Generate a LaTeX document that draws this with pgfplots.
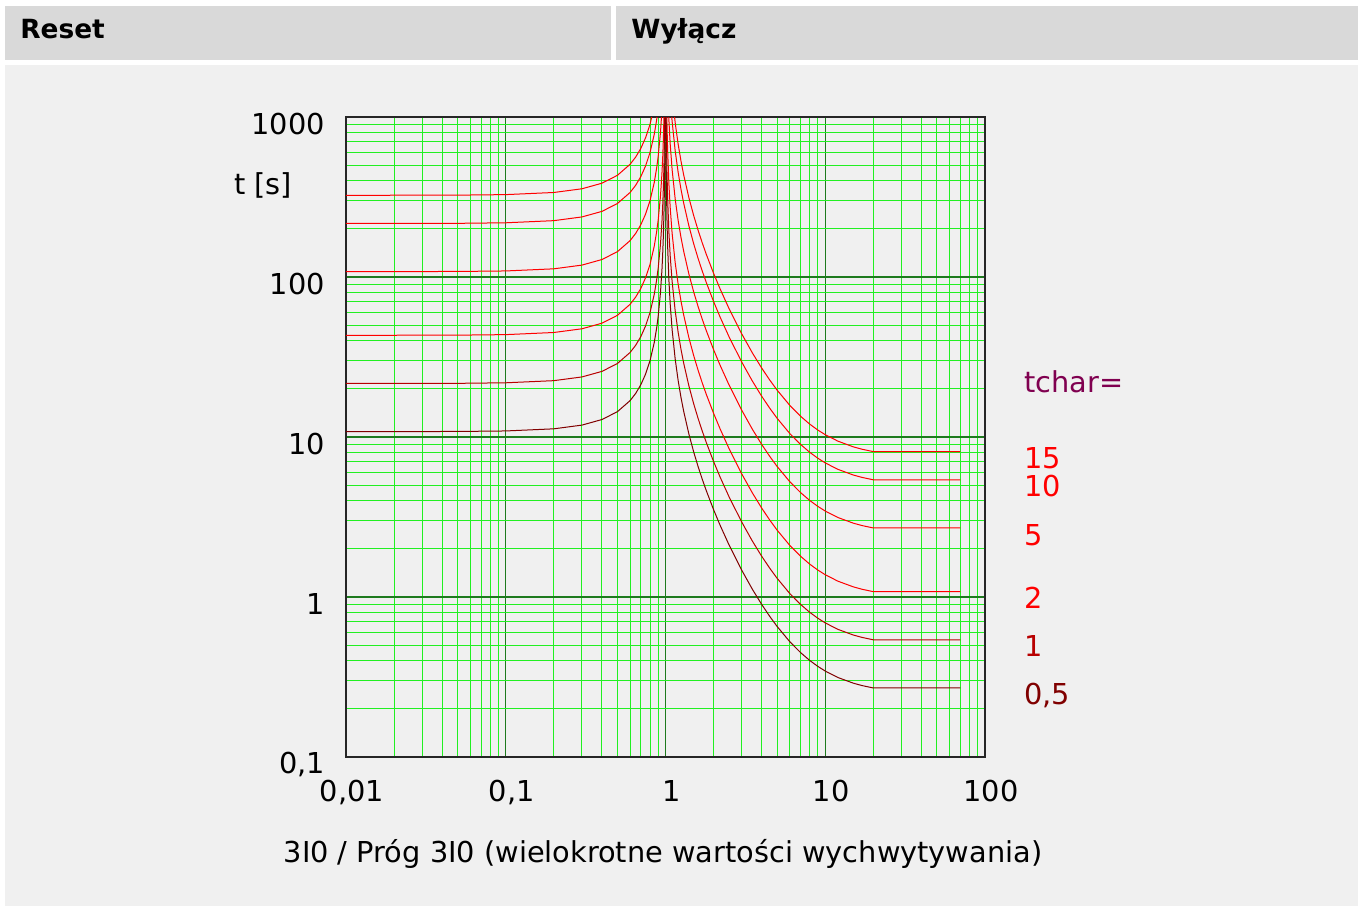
\documentclass[border=0pt]{standalone}
\usepackage{fontspec}
\setmainfont{DejaVu Sans}
\usepackage{pgfplots}
\pgfplotsset{compat=1.18}
\usepackage{pgfplotstable}

\definecolor{hdr}{HTML}{D9D9D9}
\definecolor{panel}{HTML}{F0F0F0}
\definecolor{grmin}{HTML}{22F022}
\definecolor{grmaj}{HTML}{1E7A1E}
\definecolor{cA}{HTML}{FF0000}
\definecolor{cB}{HTML}{B80000}
\definecolor{cC}{HTML}{800000}
\definecolor{tch}{HTML}{800050}

% reset part (I/I> below 1)
\pgfplotstableread{
M     t05    t1     t2     t5     t10    t15
0.01  10.80  21.60  43.20  108.0  216.0  324.0
0.05  10.83  21.65  43.31  108.3  216.5  324.8
0.1   10.91  21.82  43.64  109.1  218.2  327.3
0.2   11.25  22.50  45.00  112.5  225.0  337.5
0.3   11.87  23.74  47.47  118.7  237.4  356.0
0.4   12.86  25.71  51.43  128.6  257.1  385.7
0.5   14.40  28.80  57.60  144.0  288.0  432.0
0.6   16.88  33.75  67.50  168.8  337.5  506.3
0.65  18.70  37.40  74.81  187.0  374.0  561.0
0.7   21.18  42.35  84.71  211.8  423.5  635.3
0.75  24.69  49.37  98.74  246.9  493.7  740.6
0.8   30.00  60.00  120.0  300.0  600.0  900.0
0.85  38.92  77.84  155.7  389.2  778.4  1168
0.88  47.87  95.74  191.5  478.7  957.4  1436
0.9   56.84  113.7  227.4  568.4  1137   1705
0.93  79.94  159.9  319.8  799.4  1599   2398
0.95  110.8  221.5  443.1  1108   2215   3323
0.96  137.8  275.5  551.0  1378   2755   4133
0.97  182.7  365.5  731.0  1827   3655   5482
0.98  272.7  545.5  1091   2727   5455   8182
0.99  542.7  1085   2171   5427   10854  16281
0.995 1083   2165   4331   10827  21654  32481
0.997 1803   3605   7211   18027  36054  54081
}\resettab

% trip part (I/I> above 1)
\pgfplotstableread{
M     t05    t1     t2     t5     t10    t15
1.003 1632   3264   6528   16320  32640  48960
1.005 978.3  1957   3913   9783   19566  29349
1.01  488.1  976.1  1952   4881   9761   14642
1.02  242.9  485.9  971.8  2429   4859   7288
1.03  161.3  322.5  645.0  1613   3225   4838
1.05  95.91  191.8  383.6  959.1  1918   2877
1.07  67.91  135.8  271.6  679.1  1358   2037
1.1   46.94  93.87  187.7  469.4  938.7  1408
1.15  30.65  61.30  122.6  306.5  613.0  919.5
1.2   22.53  45.06  90.12  225.3  450.6  675.9
1.25  17.68  35.35  70.71  176.8  353.5  530.3
1.3   14.46  28.91  57.82  144.6  289.1  433.7
1.4   10.46  20.92  41.84  104.6  209.2  313.8
1.5   8.090  16.18  32.36  80.90  161.8  242.7
1.6   6.531  13.06  26.12  65.31  130.6  195.9
1.7   5.434  10.87  21.73  54.34  108.7  163.0
1.8   4.623  9.245  18.49  46.23  92.45  138.7
2     3.514  7.028  14.06  35.14  70.28  105.4
2.2   2.799  5.598  11.20  27.99  55.98  83.97
2.5   2.113  4.226  8.452  21.13  42.26  63.39
3     1.471  2.942  5.884  14.71  29.42  44.13
3.5   1.117  2.234  4.468  11.17  22.34  33.51
4     0.899  1.798  3.596  8.990  17.98  26.97
4.5   0.755  1.510  3.020  7.550  15.10  22.65
5     0.654  1.308  2.616  6.540  13.08  19.62
6     0.5255 1.051  2.102  5.255  10.51  15.77
7     0.4498 0.8995 1.799  4.498  8.995  13.49
8     0.401  0.802  1.604  4.010  8.020  12.03
9     0.3681 0.7361 1.472  3.681  7.361  11.04
10    0.3445 0.689  1.378  3.445  6.890  10.34
12    0.314  0.628  1.256  3.140  6.280  9.420
15    0.2893 0.5785 1.157  2.893  5.785  8.678
17    0.2796 0.5591 1.118  2.796  5.591  8.387
20    0.2701 0.5401 1.080  2.701  5.401  8.102
70    0.2701 0.5401 1.080  2.701  5.401  8.102
}\triptab

\begin{document}
\begin{tikzpicture}
% page background, header cells and panel (1px = 0.5pt)
\fill[white] (0pt,0pt) rectangle (682.5pt,-453pt);
\fill[hdr] (2.5pt,-3pt) rectangle (305.5pt,-30pt);
\fill[hdr] (308pt,-3pt) rectangle (679pt,-30pt);
\fill[panel] (2.5pt,-32.5pt) rectangle (679pt,-453pt);
\node[anchor=base west, inner sep=0pt, font=\fontsize{13.2}{15}\selectfont\bfseries] at (10pt,-19pt) {Reset};
\node[anchor=base west, inner sep=0pt, font=\fontsize{13.2}{15}\selectfont\bfseries] at (315.5pt,-19pt) {Wyłącz};

\begin{axis}[
  at={(173pt,-378.5pt)}, anchor=south west,
  scale only axis,
  width=319.5pt, height=320pt,
  xmode=log, ymode=log,
  xmin=0.01, xmax=100, ymin=0.1, ymax=1000,
  xtick={0.01,0.1,1,10,100},
  xticklabels={{0,01},{0,1},1,10,100},
  ytick={0.1,1,10,100,1000},
  yticklabels={{0,1},1,10,100,1000},
  /pgf/number format/assume math mode=true,
  tick label style={font=\fontsize{14.4}{16}\selectfont},
  xticklabel style={yshift=-8pt, xshift=3pt},
  yticklabel style={xshift=-7pt, yshift=-3.5pt},
  major tick length=0pt, minor tick length=0pt,
  grid=both,
  minor grid style={draw=grmin, line width=0.5pt},
  major grid style={draw=grmaj, line width=0.6pt},
  axis line style={draw=black!85, line width=0.6pt},
  every axis plot/.append style={line width=0.5pt},
]
\addplot[cA] table[x=M,y=t15]{\resettab};
\addplot[cA] table[x=M,y=t10]{\resettab};
\addplot[cA] table[x=M,y=t5]{\resettab};
\addplot[cA] table[x=M,y=t2]{\resettab};
\addplot[cB] table[x=M,y=t1]{\resettab};
\addplot[cC] table[x=M,y=t05]{\resettab};
\addplot[cA] table[x=M,y=t15]{\triptab};
\addplot[cA] table[x=M,y=t10]{\triptab};
\addplot[cA] table[x=M,y=t5]{\triptab};
\addplot[cA] table[x=M,y=t2]{\triptab};
\addplot[cB] table[x=M,y=t1]{\triptab};
\addplot[cC] table[x=M,y=t05]{\triptab};
\end{axis}

\begin{scope}[every node/.style={font=\fontsize{14.4}{16}\selectfont, inner sep=0pt}]
\node at (131.5pt,-92.5pt) {t [s]};
\node at (331.5pt,-427pt) {3I0 / Próg 3I0 (wielokrotne wartości wychwytywania)};
\node[anchor=base west, text=tch] at (512pt,-196pt) {tchar=};
\node[anchor=base west, text=cA] at (512pt,-234pt) {15};
\node[anchor=base west, text=cA] at (512pt,-248pt) {10};
\node[anchor=base west, text=cA] at (512pt,-272.5pt) {5};
\node[anchor=base west, text=cA] at (512pt,-304pt) {2};
\node[anchor=base west, text=cB] at (512pt,-328pt) {1};
\node[anchor=base west, text=cC] at (512pt,-352pt) {0,5};
\end{scope}
\end{tikzpicture}
\end{document}
